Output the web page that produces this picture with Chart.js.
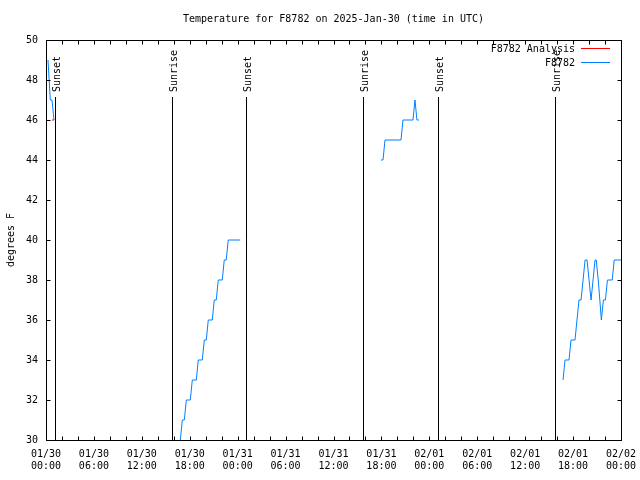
<!DOCTYPE html>
<html>
<head>
<meta charset="utf-8">
<script src="https://cdn.jsdelivr.net/npm/chart.js@4/dist/chart.umd.min.js"></script>
<style>
  html, body { margin: 0; padding: 0; background: #fff; }
  canvas { display: block; }
</style>
</head>
<body>
<canvas id="tempChart" width="640" height="480"></canvas>
<script>
const TITLE = 'Temperature for F8782 on 2025-Jan-30 (time in UTC)';
const Y_TITLE = 'degrees F';
const FONT = '"DejaVu Sans Mono", "Liberation Mono", monospace';
const BLUE = '#0080ff';
const RED = '#ff0000';

// x values are hours after 01/30 00:00 UTC
const dayLabels = ['01/30', '01/31', '02/01', '02/02'];
const hourLabels = ['00:00', '06:00', '12:00', '18:00'];

const sunHours = [1.15, 15.78, 25.05, 39.73, 49.1, 63.78];
const sunLabels = ['Sunset', 'Sunrise', 'Sunset', 'Sunrise', 'Sunset', 'Sunrise'];

const analysisHours = [0.75, 1.0];
const analysisTemps = [46, 46];

// station readings, one block per stretch of data
const hours1 = [0.25, 0.54, 0.75, 1.0];
const temps1 = [49, 47, 47, 46];

const hours2 = [16.57, 16.82, 17.07, 17.32, 17.57, 18.07, 18.32, 18.82, 19.07, 19.57, 19.82,
                20.07, 20.32, 20.82, 21.07, 21.32, 21.57, 22.07, 22.32, 22.57, 22.82, 24.32];
const temps2 = [29, 30, 31, 31, 32, 32, 33, 33, 34, 34, 35,
                35, 36, 36, 37, 37, 38, 38, 39, 39, 40, 40];

const hours3 = [41.95, 42.2, 42.45, 44.45, 44.7, 45.95, 46.2, 46.45, 46.7];
const temps3 = [44, 44, 45, 45, 46, 46, 47, 46, 46];

const hours4 = [64.74, 64.99, 65.49, 65.74, 66.24, 66.49, 66.74, 67.0, 67.25, 67.5, 67.75,
                68.0, 68.25, 68.5, 68.75, 68.9, 69.15, 69.35, 69.54, 69.8, 70.05, 70.3,
                70.9, 71.15, 72.0];
const temps4 = [33, 34, 34, 35, 35, 36, 37, 37, 38, 39, 39,
                38, 37, 38, 39, 39, 38, 37, 36, 37, 37, 38,
                38, 39, 39];

function pts(h, t) {
    return h.map((x, i) => ({ x: x, y: t[i] }));
}

const stationData = [];
[[hours1, temps1], [hours2, temps2], [hours3, temps3], [hours4, temps4]].forEach(([h, t], i) => {
    if (i > 0) stationData.push({ x: h[0] - 0.01, y: null });
    stationData.push(...pts(h, t));
});

function tickLabel(v) {
    if (v % 6 !== 0) return '';
    return [dayLabels[Math.floor(v / 24)], hourLabels[(v % 24) / 6]];
}

const crisp = v => Math.round(v) + 0.5;

const gnuplotLook = {
    id: 'gnuplotLook',
    beforeDatasetsDraw(chart) {
        const { ctx, scales: { x, y } } = chart;
        ctx.save();
        ctx.strokeStyle = '#000';
        ctx.lineWidth = 1;
        ctx.fillStyle = '#000';
        ctx.font = '10px ' + FONT;
        sunHours.forEach((h, i) => {
            const px = crisp(x.getPixelForValue(h));
            ctx.beginPath();
            ctx.moveTo(px, y.getPixelForValue(30));
            ctx.lineTo(px, y.getPixelForValue(47.15));
            ctx.stroke();
            ctx.save();
            ctx.translate(px + 4, y.getPixelForValue(47.4));
            ctx.rotate(-Math.PI / 2);
            ctx.textAlign = 'left';
            ctx.textBaseline = 'alphabetic';
            ctx.fillText(sunLabels[i], 0, 0);
            ctx.restore();
        });
        ctx.restore();
    },
    afterDraw(chart) {
        const { ctx, chartArea: a, scales: { x, y } } = chart;
        ctx.save();
        ctx.strokeStyle = '#000';
        ctx.lineWidth = 1;
        const L = crisp(a.left), R = crisp(a.right), T = crisp(a.top), B = crisp(a.bottom);
        ctx.strokeRect(L, T, R - L, B - T);
        ctx.beginPath();
        x.ticks.forEach(t => {
            const px = crisp(x.getPixelForValue(t.value));
            ctx.moveTo(px, B); ctx.lineTo(px, B - 4);
            ctx.moveTo(px, T); ctx.lineTo(px, T + 4);
        });
        y.ticks.forEach(t => {
            const py = crisp(y.getPixelForValue(t.value));
            ctx.moveTo(L, py); ctx.lineTo(L + 4, py);
            ctx.moveTo(R, py); ctx.lineTo(R - 4, py);
        });
        ctx.stroke();

        // title over the plot area
        ctx.fillStyle = '#000';
        ctx.font = '10px ' + FONT;
        ctx.textAlign = 'center';
        ctx.textBaseline = 'middle';
        ctx.fillText(TITLE, (a.left + a.right) / 2, 19);

        // key, gnuplot style: text then a line sample
        chart.data.datasets.forEach((ds, i) => {
            const ly = 48.5 + i * 14;
            ctx.textAlign = 'right';
            ctx.fillStyle = '#000';
            ctx.fillText(ds.label, a.right - 46, ly + 0.5);
            ctx.strokeStyle = ds.borderColor;
            ctx.beginPath();
            ctx.moveTo(a.right - 40, ly);
            ctx.lineTo(a.right - 11, ly);
            ctx.stroke();
        });
        ctx.restore();
    }
};

new Chart(document.getElementById('tempChart'), {
    type: 'line',
    data: {
        datasets: [
            {
                label: 'F8782 Analysis',
                data: pts(analysisHours, analysisTemps),
                borderColor: RED,
                borderWidth: 1,
                pointRadius: 0,
                tension: 0
            },
            {
                label: 'F8782',
                data: stationData,
                borderColor: BLUE,
                borderWidth: 1,
                pointRadius: 0,
                tension: 0,
                spanGaps: false
            }
        ]
    },
    options: {
        responsive: false,
        animation: false,
        devicePixelRatio: 1,
        layout: { padding: { top: 40, right: 19, left: 0, bottom: 0 } },
        plugins: {
            legend: { display: false },
            tooltip: { enabled: false }
        },
        scales: {
            x: {
                type: 'linear',
                min: 0,
                max: 72,
                afterFit: s => {
                    s.height = 40;
                    s.paddingLeft = 0;
                    s.paddingRight = 0;
                },
                grid: { display: false, drawTicks: false },
                border: { display: false },
                ticks: {
                    stepSize: 2,
                    autoSkip: false,
                    maxRotation: 0,
                    padding: 8,
                    color: '#000',
                    font: { family: FONT, size: 10, lineHeight: 1.2 },
                    callback: tickLabel
                }
            },
            y: {
                min: 30,
                max: 50,
                afterFit: s => {
                    s.width = 46;
                    s.paddingTop = 0;
                    s.paddingBottom = 0;
                },
                grid: { display: false, drawTicks: false },
                border: { display: false },
                title: {
                    display: true,
                    text: Y_TITLE,
                    color: '#000',
                    font: { family: FONT, size: 10 },
                    padding: { top: 5, bottom: 0 }
                },
                ticks: {
                    stepSize: 2,
                    padding: 8,
                    color: '#000',
                    font: { family: FONT, size: 10 }
                }
            }
        }
    },
    plugins: [gnuplotLook]
});
</script>
</body>
</html>
